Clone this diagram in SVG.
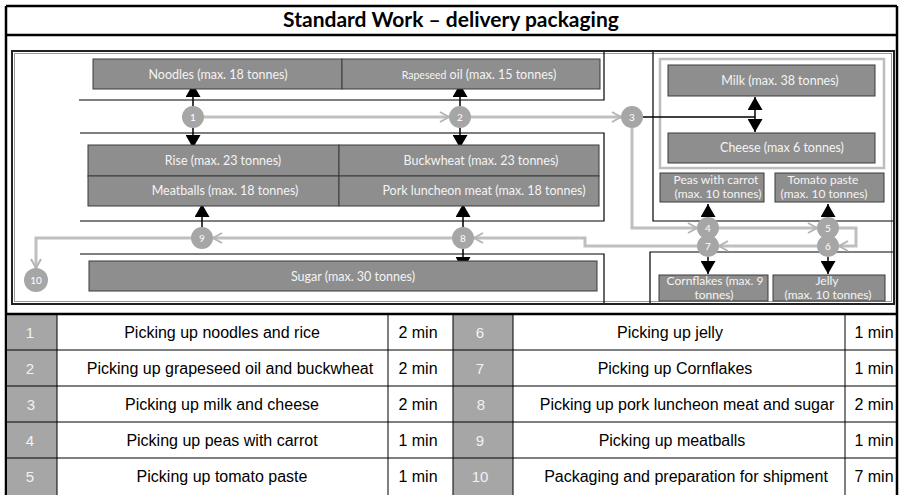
<svg xmlns="http://www.w3.org/2000/svg" width="902" height="495" viewBox="0 0 902 495">
<defs>
<marker id="blk" markerUnits="userSpaceOnUse" markerWidth="15" markerHeight="15" refX="13" refY="7.5" orient="auto"><path d="M0,0 L13,7.5 L0,15 z" fill="#000"/></marker>
<marker id="gry" markerUnits="userSpaceOnUse" markerWidth="12" markerHeight="12" refX="10" refY="6" orient="auto"><path d="M1,1 L10,6 L1,11" fill="none" stroke="#b5b5b5" stroke-width="2"/></marker>
</defs>
<style>
.rack{stroke:#000;stroke-width:1.2;fill:none}
.box{fill:#8e8e8e;stroke:#3a3a3a;stroke-width:1}
.bt{font-family:Lato,"Open Sans",sans-serif;font-size:12.5px;fill:#f4f4f4;text-anchor:middle}
.b2{font-size:12px}
.st{fill:#a6a6a6}
.sn{font-family:Lato,sans-serif;font-size:10px;fill:#fff;text-anchor:middle}
.ga{fill:none;stroke:#bfbfbf;stroke-width:3;marker-end:url(#gry)}
.ba{fill:none;stroke:#000;stroke-width:1.5;marker-end:url(#blk)}
.tt{font-family:"Liberation Sans",Arial,sans-serif;font-size:16px;fill:#000;text-anchor:middle}
.tn{font-family:"Liberation Sans",Arial,sans-serif;font-size:15px;fill:#f2f2f2;text-anchor:middle}
.grid{stroke:#000;stroke-width:1;fill:none}
</style>
<rect width="902" height="495" fill="#fff"/>
<g id="frame">
<path d="M6,6 H897 M6,35 H897 M6,6 V495 M897,6 V495" stroke="#000" stroke-width="2.5" fill="none"/>
<text x="451" y="27" font-family="Lato,sans-serif" font-weight="bold" font-size="21" text-anchor="middle">Standard Work – delivery packaging</text>
<rect x="12" y="51" width="882" height="253" fill="none" stroke="#222" stroke-width="2"/>
<rect x="14.5" y="53.5" width="877" height="248" fill="none" stroke="#9a9a9a" stroke-width="1"/>
</g>
<g id="racks">
<path class="rack" d="M79,100 H604 V52 M80,133 H604 V221 H80 M80,254 H604 V303 M653,52 V221 H893 M650,303 V252 H893"/>
<rect x="660" y="59" width="224" height="109" fill="none" stroke="#bdbdbd" stroke-width="2.5"/>
</g>
<g id="connectors">
<path class="ga" d="M204,117 H449"/>
<path class="ga" d="M471,117 H621"/>
<path class="ga" d="M632,128 V228 H697"/>
<path class="ga" d="M719,228 H817"/>
<path class="ga" d="M839,228 H856 V246 H839"/>
<path class="ga" d="M817,246 H719"/>
<path class="ga" d="M697,246 H585 V238 H474"/>
<path class="ga" d="M452,238 H213"/>
<path class="ga" d="M191,238 H36 V268"/>
<path class="ba" d="M193,106 V84"/>
<path class="ba" d="M193,128 V148"/>
<path class="ba" d="M460,106 V84"/>
<path class="ba" d="M460,128 V148"/>
<path d="M643,117 H755" stroke="#000" stroke-width="1.5" fill="none"/>
<path class="ba" d="M755,117 V97"/>
<path class="ba" d="M755,117 V132"/>
<path class="ba" d="M202,227 V204"/>
<path class="ba" d="M463,227 V204"/>
<path class="ba" d="M463,249 V270"/>
<path class="ba" d="M708,217 V204"/>
<path class="ba" d="M828,217 V204"/>
<path class="ba" d="M708,257 V274"/>
<path class="ba" d="M828,257 V274"/>
</g>
<g id="noodles"><rect class="box" x="93" y="59" width="249" height="30"/><text class="bt" x="218" y="79">Noodles (max. 18 tonnes)</text></g>
<g id="rapeseed"><rect class="box" x="342" y="59" width="258" height="30"/><text class="bt" x="479" y="79"><tspan font-size="10.5">Rapeseed</tspan> oil (max. 15 tonnes)</text></g>
<g id="rise"><rect class="box" x="88" y="145" width="251" height="31"/><text class="bt" x="223" y="165">Rise (max. 23 tonnes)</text></g>
<g id="buckwheat"><rect class="box" x="339" y="145" width="260" height="31"/><text class="bt" x="481" y="165">Buckwheat (max. 23 tonnes)</text></g>
<g id="meatballs"><rect class="box" x="88" y="176" width="251" height="30"/><text class="bt" x="225" y="195">Meatballs (max. 18 tonnes)</text></g>
<g id="pork"><rect class="box" x="339" y="176" width="260" height="30"/><text class="bt" x="484" y="195">Pork luncheon meat (max. 18 tonnes)</text></g>
<g id="sugar"><rect class="box" x="89" y="261" width="508" height="30"/><text class="bt" x="353" y="281">Sugar (max. 30 tonnes)</text></g>
<g id="milk"><rect class="box" x="668" y="65" width="207" height="31"/><text class="bt" x="780" y="85">Milk (max. 38 tonnes)</text></g>
<g id="cheese"><rect class="box" x="668" y="133" width="207" height="30"/><text class="bt" x="782" y="152">Cheese (max 6 tonnes)</text></g>
<g id="peas"><rect class="box" x="660" y="173" width="104" height="29"/><text class="bt b2" x="716" y="184">Peas with carrot</text><text class="bt b2" x="718" y="198">(max. 10 tonnes)</text></g>
<g id="tomato"><rect class="box" x="775" y="173" width="109" height="29"/><text class="bt b2" x="823" y="184">Tomato paste</text><text class="bt b2" x="824" y="198">(max. 10 tonnes)</text></g>
<g id="cornflakes"><rect class="box" x="659" y="275" width="109" height="26"/><text class="bt b2" x="715" y="285">Cornflakes (max. 9</text><text class="bt b2" x="714" y="299">tonnes)</text></g>
<g id="jelly"><rect class="box" x="773" y="275" width="112" height="26"/><text class="bt b2" x="827" y="285">Jelly</text><text class="bt b2" x="828" y="299">(max. 10 tonnes)</text></g>
<g id="s1"><circle class="st" cx="193" cy="117" r="11"/><text class="sn" x="193" y="121">1</text></g>
<g id="s2"><circle class="st" cx="460" cy="117" r="11"/><text class="sn" x="460" y="121">2</text></g>
<g id="s3"><circle class="st" cx="632" cy="117" r="11"/><text class="sn" x="632" y="121">3</text></g>
<g id="s4"><circle class="st" cx="708" cy="228" r="11"/><text class="sn" x="708" y="232">4</text></g>
<g id="s5"><circle class="st" cx="828" cy="228" r="11"/><text class="sn" x="828" y="232">5</text></g>
<g id="s6"><circle class="st" cx="828" cy="246" r="11"/><text class="sn" x="828" y="250">6</text></g>
<g id="s7"><circle class="st" cx="708" cy="246" r="11"/><text class="sn" x="708" y="250">7</text></g>
<g id="s8"><circle class="st" cx="463" cy="238" r="11"/><text class="sn" x="463" y="242">8</text></g>
<g id="s9"><circle class="st" cx="202" cy="238" r="11"/><text class="sn" x="202" y="242">9</text></g>
<g id="s10"><circle class="st" cx="36" cy="280" r="12"/><text class="sn" x="36" y="284">10</text></g>
<g id="table">
<rect x="7" y="315" width="50" height="180" fill="#a6a6a6"/>
<rect x="453" y="315" width="60" height="180" fill="#a6a6a6"/>
<path d="M6,314 H897" stroke="#000" stroke-width="2.5"/>
<path class="grid" d="M6,350 H897 M6,386 H897 M6,422 H897 M6,458 H897 M57,314 V495 M388,314 V495 M453,314 V495 M513,314 V495 M845,314 V495"/>
<text class="tn" x="30" y="338">1</text><text class="tt" x="222" y="338">Picking up noodles and rice</text><text class="tt" x="418" y="338">2 min</text>
<text class="tn" x="30" y="374">2</text><text class="tt" x="230" y="374">Picking up grapeseed oil and buckwheat</text><text class="tt" x="418" y="374">2 min</text>
<text class="tn" x="31" y="410">3</text><text class="tt" x="222" y="410">Picking up milk and cheese</text><text class="tt" x="418" y="410">2 min</text>
<text class="tn" x="30" y="446">4</text><text class="tt" x="222" y="446">Picking up peas with carrot</text><text class="tt" x="418" y="446">1 min</text>
<text class="tn" x="30" y="482">5</text><text class="tt" x="222" y="482">Picking up tomato paste</text><text class="tt" x="418" y="482">1 min</text>
<text class="tn" x="480" y="338">6</text><text class="tt" x="670" y="338">Picking up jelly</text><text class="tt" x="874" y="338">1 min</text>
<text class="tn" x="480" y="374">7</text><text class="tt" x="675" y="374">Picking up Cornflakes</text><text class="tt" x="874" y="374">1 min</text>
<text class="tn" x="481" y="410">8</text><text class="tt" x="687" y="410">Picking up pork luncheon meat and sugar</text><text class="tt" x="874" y="410">2 min</text>
<text class="tn" x="480" y="446">9</text><text class="tt" x="672" y="446">Picking up meatballs</text><text class="tt" x="874" y="446">1 min</text>
<text class="tn" x="480" y="482">10</text><text class="tt" x="686" y="482">Packaging and preparation for shipment</text><text class="tt" x="874" y="482">7 min</text>
</g>
</svg>
